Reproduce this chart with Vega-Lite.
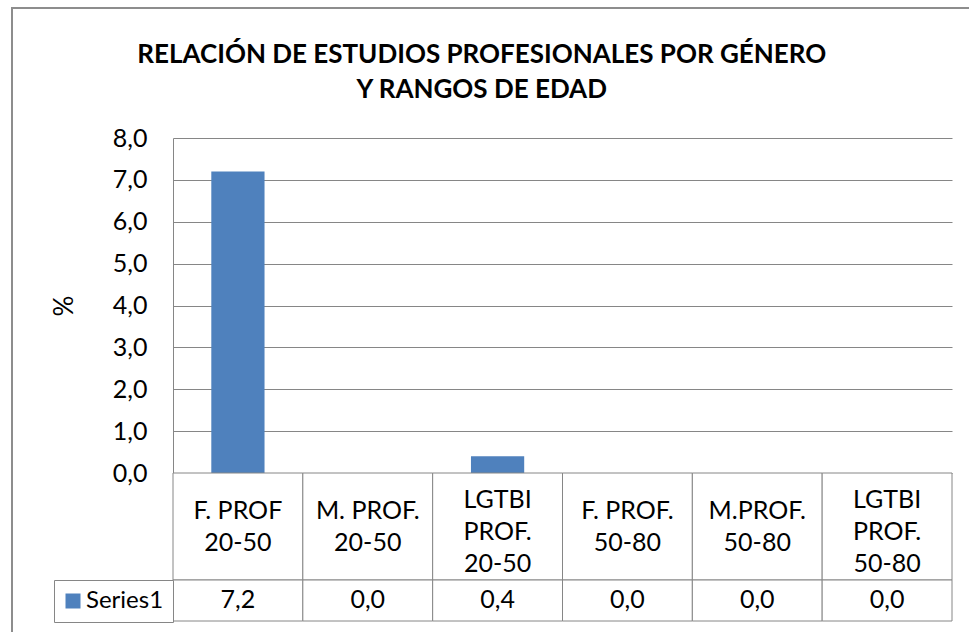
{
  "$schema": "https://vega.github.io/schema/vega-lite/v6.json",
  "padding": {"left": 11, "top": 7, "right": 0, "bottom": 0},
  "background": "white",
  "config": {
    "view": {"stroke": null},
    "concat": {"spacing": 0},
    "font": "Lato",
    "locale": {"number": {"decimal": ",", "thousands": ".", "grouping": [3], "currency": ["", " €"]}}
  },
  "datasets": {
    "d": [
      {"cat": "F. PROF\n20-50", "v": 7.2},
      {"cat": "M. PROF.\n20-50", "v": 0.0},
      {"cat": "LGTBI\nPROF.\n20-50", "v": 0.4},
      {"cat": "F. PROF.\n50-80", "v": 0.0},
      {"cat": "M.PROF.\n50-80", "v": 0.0},
      {"cat": "LGTBI\nPROF.\n50-80", "v": 0.0}
    ],
    "s": [{"serie": "Series1"}],
    "one": [{}],
    "none": []
  },
  "spacing": 0,
  "hconcat": [
    {"width": 2, "height": 625, "data": {"name": "one"}, "mark": {"type": "rect", "color": "#8d8d8d"}, "encoding": {}},
    {
      "spacing": 33,
      "vconcat": [
        {"width": 956, "height": 2, "data": {"name": "one"}, "mark": {"type": "rect", "color": "#8d8d8d"}, "encoding": {}},
        {
          "spacing": 0,
          "hconcat": [
            {"width": 38, "height": 1, "data": {"name": "none"}, "mark": "point", "encoding": {}},
            {
              "title": {
                "text": ["RELACIÓN DE ESTUDIOS PROFESIONALES POR GÉNERO", "Y RANGOS DE EDAD"],
                "font": "Lato", "fontSize": 26, "fontWeight": "bold", "lineHeight": 35,
                "color": "black", "anchor": "middle", "offset": 23, "dx": -20
              },
              "spacing": 0,
              "bounds": "flush",
              "resolve": {"scale": {"x": "independent", "y": "independent", "color": "independent"}},
              "vconcat": [
                {
                  "width": 779, "height": 335,
                  "data": {"name": "d"},
                  "mark": {"type": "bar", "color": "#4F81BD"},
                  "encoding": {
                    "x": {"field": "cat", "type": "nominal", "sort": null, "axis": null,
                          "scale": {"paddingInner": 0.59, "paddingOuter": 0.295}},
                    "y": {"field": "v", "type": "quantitative",
                          "scale": {"domain": [0, 8], "nice": false},
                          "axis": {"values": [0, 1, 2, 3, 4, 5, 6, 7, 8], "format": ".1f", "title": "%",
                                   "grid": true, "gridColor": "#868686", "domainColor": "#868686",
                                   "ticks": false, "labelPadding": 26, "labelFont": "Lato", "labelFontSize": 25,
                                   "labelColor": "black", "titleFont": "Lato", "titleFontSize": 26,
                                   "titleFontWeight": "normal", "titleColor": "black",
                                   "minExtent": 64, "titlePadding": 32}}
                  }
                },
                {
                  "width": 779, "height": 107,
                  "data": {"name": "d"},
                  "layer": [
                    {"mark": {"type": "rect", "fill": "white", "stroke": "#868686", "strokeWidth": 1},
                     "encoding": {"x": {"field": "cat", "type": "nominal", "sort": null, "axis": null,
                                        "scale": {"paddingInner": 0, "paddingOuter": 0}}}},
                    {"transform": [{"filter": "indexof(datum.cat, 'LGTBI') < 0"}],
                     "mark": {"type": "text", "lineBreak": "\n", "fontSize": 25, "lineHeight": 32,
                              "font": "Lato", "color": "black", "baseline": "middle", "dy": -16},
                     "encoding": {"x": {"field": "cat", "type": "nominal", "sort": null, "axis": null},
                                  "text": {"field": "cat"}}},
                    {"transform": [{"filter": "indexof(datum.cat, 'LGTBI') >= 0"}],
                     "mark": {"type": "text", "lineBreak": "\n", "fontSize": 25, "lineHeight": 32,
                              "font": "Lato", "color": "black", "baseline": "middle", "dy": -27},
                     "encoding": {"x": {"field": "cat", "type": "nominal", "sort": null, "axis": null},
                                  "text": {"field": "cat"}}}
                  ]
                },
                {
                  "width": 779, "height": 41,
                  "layer": [
                    {"data": {"name": "d"},
                     "mark": {"type": "rect", "fill": "white", "stroke": "#868686", "strokeWidth": 1},
                     "encoding": {"x": {"field": "cat", "type": "nominal", "sort": null, "axis": null,
                                        "scale": {"paddingInner": 0, "paddingOuter": 0}}}},
                    {"data": {"name": "d"},
                     "mark": {"type": "text", "fontSize": 25, "font": "Lato", "color": "black", "baseline": "middle", "dy": -1},
                     "encoding": {"x": {"field": "cat", "type": "nominal", "sort": null, "axis": null},
                                  "text": {"field": "v", "type": "quantitative", "format": ".1f"}}},
                    {"data": {"name": "s"},
                     "mark": {"type": "point", "opacity": 0, "filled": true, "shape": "square"},
                     "encoding": {"color": {"field": "serie", "type": "nominal",
                                            "scale": {"range": ["#4F81BD"]},
                                            "legend": {"title": null, "orient": "left", "offset": 0,
                                                       "padding": 9, "strokeColor": "#868686", "fillColor": "white",
                                                       "symbolType": "square", "symbolSize": 225,
                                                       "symbolOpacity": 1, "symbolStrokeWidth": 0,
                                                       "symbolOffset": -2, "labelOffset": 1,
                                                       "labelFontSize": 24, "labelFont": "Lato",
                                                       "labelColor": "black"}}}}
                  ]
                }
              ]
            }
          ]
        }
      ]
    }
  ]
}
